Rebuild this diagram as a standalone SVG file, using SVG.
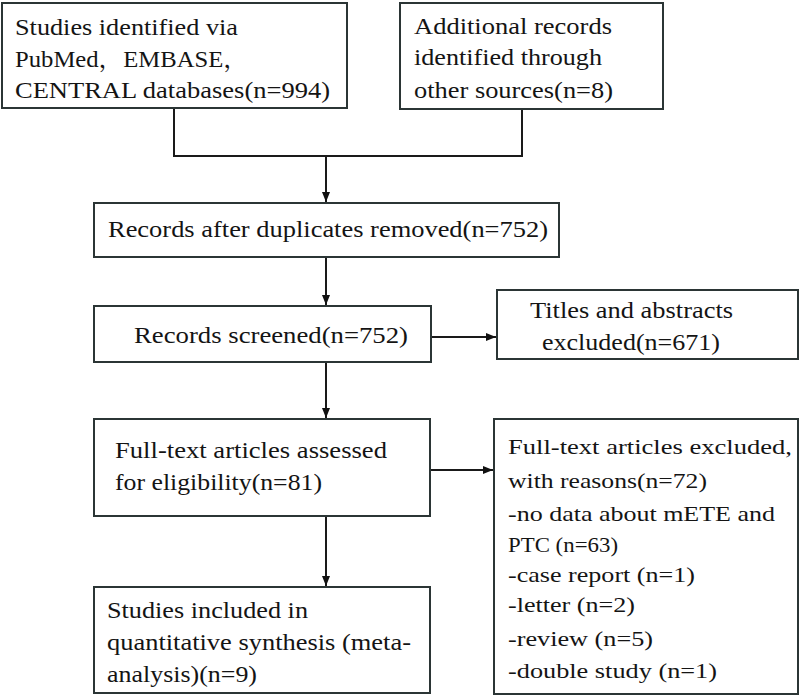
<svg xmlns="http://www.w3.org/2000/svg" width="800" height="697" viewBox="0 0 800 697">
<style>
.box{fill:#fff;stroke:#2b3535;stroke-width:2}
.t{font-family:'Liberation Serif','Times New Roman',Tinos,'Noto Serif CJK SC',serif;font-size:23px;fill:#141414}
.s{font-size:22px}
.ln{fill:none;stroke:#1a1a1a;stroke-width:2}
</style>
<defs>
<marker id="ah" viewBox="0 0 10 10" refX="10" refY="5" markerWidth="10" markerHeight="10" markerUnits="userSpaceOnUse" orient="auto">
<path d="M0,1 L10,5 L0,9 z" fill="#111"/>
</marker>
</defs>
<rect width="800" height="697" fill="#fff"/>
<g id="connectors">
<polyline class="ln" points="174,108 174,156 522,156 522,109"/>
<line class="ln" x1="326" y1="156" x2="326" y2="202" marker-end="url(#ah)"/>
<line class="ln" x1="326" y1="257" x2="326" y2="305" marker-end="url(#ah)"/>
<line class="ln" x1="431" y1="337" x2="496" y2="337" marker-end="url(#ah)"/>
<line class="ln" x1="326" y1="362" x2="326" y2="418" marker-end="url(#ah)"/>
<line class="ln" x1="430" y1="470" x2="493" y2="470" marker-end="url(#ah)"/>
<line class="ln" x1="326" y1="516" x2="326" y2="586" marker-end="url(#ah)"/>
</g>
<g id="n1">
<rect class="box" x="2" y="3" width="345" height="105"/>
<text class="t" x="15" y="35" textLength="223" lengthAdjust="spacingAndGlyphs">Studies identified via</text>
<text class="t" x="15" y="67" textLength="233" lengthAdjust="spacingAndGlyphs">PubMed，EMBASE，</text>
<text class="t" x="15" y="98" textLength="315" lengthAdjust="spacingAndGlyphs">CENTRAL databases(n=994)</text>
</g>
<g id="n2">
<rect class="box" x="400" y="3" width="263" height="106"/>
<text class="t" x="414" y="34" textLength="198" lengthAdjust="spacingAndGlyphs">Additional records</text>
<text class="t" x="414" y="65" textLength="188" lengthAdjust="spacingAndGlyphs">identified through</text>
<text class="t" x="414" y="98" textLength="199" lengthAdjust="spacingAndGlyphs">other sources(n=8)</text>
</g>
<g id="n3">
<rect class="box" x="94" y="203" width="465" height="54"/>
<text class="t" x="108" y="237" textLength="440" lengthAdjust="spacingAndGlyphs">Records after duplicates removed(n=752)</text>
</g>
<g id="n4">
<rect class="box" x="94" y="306" width="337" height="56"/>
<text class="t" x="134" y="343" textLength="274" lengthAdjust="spacingAndGlyphs">Records screened(n=752)</text>
</g>
<g id="n5">
<rect class="box" x="497" y="290" width="301" height="69"/>
<text class="t" x="530" y="318" textLength="203" lengthAdjust="spacingAndGlyphs">Titles and abstracts</text>
<text class="t" x="542" y="350" textLength="178" lengthAdjust="spacingAndGlyphs">excluded(n=671)</text>
</g>
<g id="n6">
<rect class="box" x="94" y="419" width="336" height="97"/>
<text class="t" x="115" y="458" textLength="272" lengthAdjust="spacingAndGlyphs">Full-text articles assessed</text>
<text class="t" x="115" y="490" textLength="207" lengthAdjust="spacingAndGlyphs">for eligibility(n=81)</text>
</g>
<g id="n7">
<rect class="box" x="94" y="587" width="336" height="106"/>
<text class="t" x="107" y="618" textLength="201" lengthAdjust="spacingAndGlyphs">Studies included in</text>
<text class="t" x="107" y="650" textLength="304" lengthAdjust="spacingAndGlyphs">quantitative synthesis (meta-</text>
<text class="t" x="107" y="682" textLength="150" lengthAdjust="spacingAndGlyphs">analysis)(n=9)</text>
</g>
<g id="n8">
<rect class="box" x="494" y="419" width="304" height="275"/>
<text class="t s" x="508" y="454" textLength="284" lengthAdjust="spacingAndGlyphs">Full-text articles excluded,</text>
<text class="t s" x="508" y="488" textLength="199" lengthAdjust="spacingAndGlyphs">with reasons(n=72)</text>
<text class="t s" x="508" y="521" textLength="267" lengthAdjust="spacingAndGlyphs">-no data about mETE and</text>
<text class="t s" x="508" y="552" textLength="110" lengthAdjust="spacingAndGlyphs">PTC (n=63)</text>
<text class="t s" x="508" y="582" textLength="187" lengthAdjust="spacingAndGlyphs">-case report (n=1)</text>
<text class="t s" x="508" y="612" textLength="127" lengthAdjust="spacingAndGlyphs">-letter (n=2)</text>
<text class="t s" x="508" y="646" textLength="145" lengthAdjust="spacingAndGlyphs">-review (n=5)</text>
<text class="t s" x="508" y="678" textLength="209" lengthAdjust="spacingAndGlyphs">-double study (n=1)</text>
</g>
</svg>
